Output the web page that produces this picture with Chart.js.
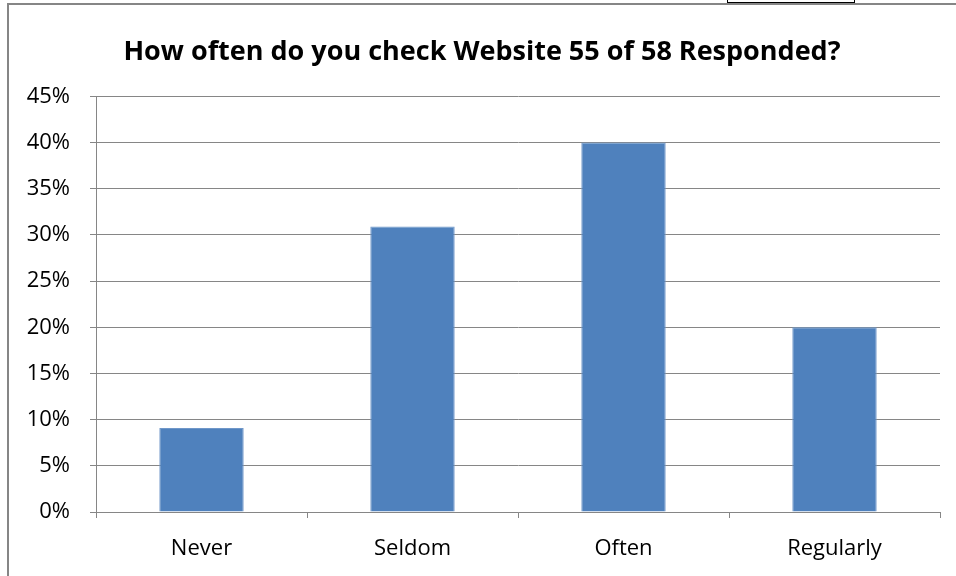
<!DOCTYPE html>
<html>
<head>
<meta charset="utf-8">
<script src="https://cdn.jsdelivr.net/npm/chart.js@4"></script>
<style>
  html, body { margin: 0; padding: 0; background: #fff; }
  #wrap { position: relative; width: 956px; height: 576px; overflow: hidden; }
  #tab { position: absolute; left: 727px; top: -2px; width: 126px; height: 3px; border: 1px solid #000; }
</style>
</head>
<body>
<div id="wrap">
  <canvas id="chart" width="956" height="576"></canvas>
  <div id="tab"></div>
</div>
<script>
document.addEventListener('DOMContentLoaded', () => {
    const categories = ['Never', 'Seldom', 'Often', 'Regularly'];
    const shares = [9.09, 30.91, 40.0, 20.0];
    const yTicks = [0, 5, 10, 15, 20, 25, 30, 35, 40, 45];

    const gray = '#868686';
    const fontFamily = '"Open Sans", "Noto Sans", sans-serif';

    // outer frame of the chart box (left and top edges only are in view)
    const framePlugin = {
        id: 'frame',
        beforeDraw(chart) {
            const ctx = chart.ctx;
            ctx.save();
            ctx.strokeStyle = gray;
            ctx.lineWidth = 2;
            ctx.beginPath();
            ctx.moveTo(8, 576);
            ctx.lineTo(8, 4);
            ctx.lineTo(956, 4);
            ctx.stroke();
            ctx.restore();
        }
    };

    const ctx = document.getElementById('chart').getContext('2d');
    new Chart(ctx, {
        type: 'bar',
        data: {
            labels: categories,
            datasets: [{
                data: shares,
                backgroundColor: '#4F81BD',
                borderColor: '#6F97C9',
                borderWidth: 1,
                categoryPercentage: 1.0,
                barPercentage: 0.4
            }]
        },
        options: {
            responsive: false,
            animation: false,
            layout: { padding: { left: 24, right: 16, top: 0, bottom: 0 } },
            plugins: {
                legend: { display: false },
                tooltip: { enabled: false },
                title: {
                    display: true,
                    text: 'How often do you check Website 55 of 58 Responded?',
                    color: '#000',
                    font: { family: fontFamily, size: 27, weight: 'bold' },
                    padding: { top: 36, bottom: 28 }
                }
            },
            scales: {
                x: {
                    afterFit: (scale) => { scale.height = 64; },
                    grid: {
                        offset: true,
                        drawOnChartArea: false,
                        color: gray,
                        tickLength: 6,
                        lineWidth: 1
                    },
                    border: { color: gray, width: 1 },
                    ticks: {
                        color: '#000',
                        padding: 18,
                        font: { family: fontFamily, size: 22 }
                    }
                },
                y: {
                    min: 0,
                    max: 45,
                    afterFit: (scale) => { scale.width = 72; },
                    afterBuildTicks: (scale) => { scale.ticks = yTicks.map(v => ({ value: v })); },
                    grid: { color: gray, tickLength: 6, lineWidth: 1 },
                    border: { color: gray, width: 1 },
                    ticks: {
                        color: '#000',
                        padding: 20,
                        font: { family: fontFamily, size: 22 },
                        callback: (v) => v + '%'
                    }
                }
            }
        },
        plugins: [framePlugin]
    });
});
</script>
</body>
</html>
